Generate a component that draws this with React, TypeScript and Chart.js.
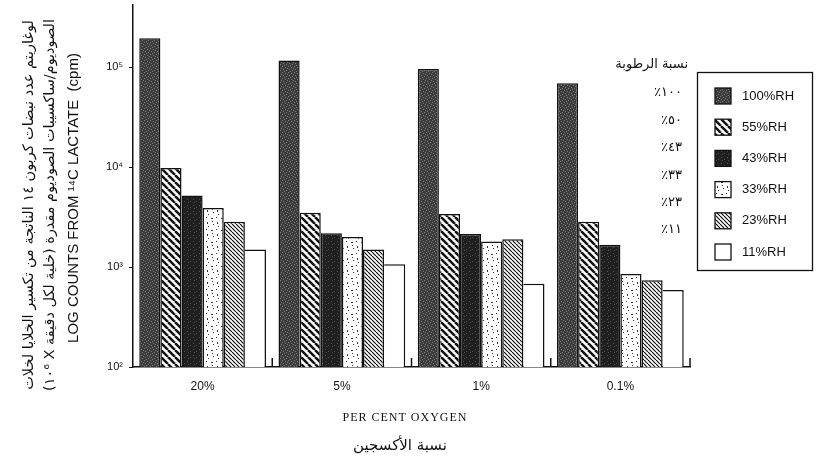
import React, { useEffect, useRef } from 'react';
import { Chart, registerables } from 'chart.js';

Chart.register(...registerables);

// ---- data ----
const categories = ['20%', '5%', '1%', '0.1%'];
const rhLabels = ['100%RH', '55%RH', '43%RH', '33%RH', '23%RH', '11%RH'];
const arabicRhLabels = ['١٠٠٪', '٥٠٪', '٤٣٪', '٣٣٪', '٢٣٪', '١١٪'];
const rh100 = [195000, 117000, 96000, 69000];
const rh55 = [9800, 3500, 3400, 2850];
const rh43 = [5200, 2180, 2150, 1670];
const rh33 = [3900, 2000, 1800, 855];
const rh23 = [2850, 1500, 1900, 740];
const rh11 = [1500, 1070, 680, 590];
const yTicks = [100, 1000, 10000, 100000];
const yTickLabels = ['10²', '10³', '10⁴', '10⁵'];

const xTitle = 'PER CENT OXYGEN';
const xTitleAr = 'نسبة الأكسجين';
const yTitleAr1 = 'لوغاريتم عدد نبضات كربون ١٤ الناتجة من تكسير الخلايا لخلات';
const yTitleAr2 = 'الصوديوم/ساكسيبات الصوديوم مقدرة (خلية لكل دقيقة X ١٠⁶)';
const yTitleEn = 'LOG COUNTS FROM ¹⁴C LACTATE  (cpm)';
const legendHeaderAr = 'نسبة الرطوبة';

function tile(w: number, h: number, draw: (g: CanvasRenderingContext2D) => void): CanvasPattern {
  const c = document.createElement('canvas');
  c.width = w;
  c.height = h;
  const g = c.getContext('2d')!;
  draw(g);
  return g.createPattern(c, 'repeat')!;
}

function stipple(base: string, dot: string, pts: number[][]) {
  return tile(6, 6, (g) => {
    g.fillStyle = base;
    g.fillRect(0, 0, 6, 6);
    g.fillStyle = dot;
    pts.forEach(([x, y]) => g.fillRect(x, y, 1, 1));
  });
}

function stripes(s: number, lw: number) {
  return tile(s, s, (g) => {
    g.fillStyle = '#ffffff';
    g.fillRect(0, 0, s, s);
    g.strokeStyle = '#111111';
    g.lineWidth = lw;
    for (const off of [-s, 0, s]) {
      g.beginPath();
      g.moveTo(off, 0);
      g.lineTo(off + s, s);
      g.stroke();
    }
  });
}

function speckle() {
  return tile(10, 12, (g) => {
    g.fillStyle = '#ffffff';
    g.fillRect(0, 0, 10, 12);
    g.fillStyle = '#333333';
    [[1, 2, 2, 1], [6, 1, 1, 1], [7, 6, 1, 2], [3, 8, 1, 1], [2, 5, 1, 1], [8, 10, 1, 1]].forEach(
      ([x, y, w, h]) => g.fillRect(x, y, w, h)
    );
  });
}

export default function App() {
  const ref = useRef<HTMLCanvasElement | null>(null);

  useEffect(() => {
    const canvas = ref.current!;
    const fills: (CanvasPattern | string)[] = [
      stipple('#3c3c3c', '#7a7a7a', [[0, 0], [3, 1], [1, 3], [4, 4], [2, 5], [5, 2]]),
      stripes(7, 2.5),
      stipple('#1f1f1f', '#4e4e4e', [[1, 1], [4, 3], [2, 4]]),
      speckle(),
      stripes(4, 1.2),
      '#ffffff',
    ];
    const series = [rh100, rh55, rh43, rh33, rh23, rh11];

    const decor = {
      id: 'decor',
      afterDraw(chart: any) {
        const ctx: CanvasRenderingContext2D = chart.ctx;
        const xs = chart.scales.x;
        const area = chart.chartArea;
        ctx.save();
        // boundary ticks
        const step = xs.getPixelForValue(1) - xs.getPixelForValue(0);
        ctx.strokeStyle = '#111';
        ctx.lineWidth = 1.5;
        for (let i = 0; i < categories.length; i++) {
          const bx = xs.getPixelForValue(i) + step / 2;
          ctx.beginPath();
          ctx.moveTo(bx, area.bottom);
          ctx.lineTo(bx, area.bottom - 9);
          ctx.stroke();
        }

        // rotated y titles
        const rot = (text: string, cx: number, cy: number, family: string, size: number, target: number, rtl: boolean) => {
          ctx.save();
          ctx.translate(cx, cy);
          ctx.rotate(-Math.PI / 2);
          ctx.direction = rtl ? 'rtl' : 'ltr';
          ctx.font = `${size}px ${family}`;
          const w = ctx.measureText(text).width;
          const fs = Math.max(10, Math.min(20, (size * target) / w));
          ctx.font = `${fs}px ${family}`;
          ctx.textAlign = 'center';
          ctx.textBaseline = 'middle';
          ctx.fillStyle = '#111';
          ctx.fillText(text, 0, 0);
          ctx.restore();
        };
        rot(yTitleAr1, 29, 205, '"DejaVu Sans"', 14, 370, true);
        rot(yTitleAr2, 50, 205, '"DejaVu Sans"', 14, 372, true);
        rot(yTitleEn, 74, 198, '"Liberation Sans", Arial', 14, 290, false);

        // x titles
        ctx.fillStyle = '#111';
        ctx.textAlign = 'center';
        ctx.textBaseline = 'middle';
        ctx.font = '12px "Liberation Serif", serif';
        (ctx as any).letterSpacing = '1px';
        ctx.fillText(xTitle, 405, 418);
        (ctx as any).letterSpacing = '0px';
        ctx.direction = 'rtl';
        ctx.font = '15px "DejaVu Sans"';
        ctx.fillText(xTitleAr, 400, 446);

        // arabic humidity list
        ctx.textAlign = 'right';
        ctx.font = '13px "DejaVu Sans"';
        ctx.fillText(legendHeaderAr, 688, 65);
        arabicRhLabels.forEach((t, i) => {
          ctx.fillText(t, 682, 93 + 27.4 * i);
        });
        ctx.direction = 'ltr';

        // legend box
        ctx.strokeStyle = '#111';
        ctx.lineWidth = 1.3;
        ctx.strokeRect(697.5, 72.5, 115, 198);
        ctx.font = '13px "Liberation Sans", Arial';
        ctx.textAlign = 'left';
        rhLabels.forEach((lab, i) => {
          const cy = 96 + 31.2 * i;
          ctx.fillStyle = fills[i] as any;
          ctx.fillRect(715, cy - 8, 16, 16);
          ctx.lineWidth = 1.3;
          ctx.strokeRect(715, cy - 8, 16, 16);
          ctx.fillStyle = '#111';
          ctx.fillText(lab, 742, cy);
        });
        ctx.restore();
      },
    };

    const chart = new Chart(canvas, {
      type: 'bar',
      data: {
        labels: categories,
        datasets: series.map((d, i) => ({
          label: rhLabels[i],
          data: d,
          backgroundColor: fills[i] as any,
          borderColor: '#111',
          borderWidth: i === 5 ? { top: 1.5, right: 1.5, left: 0, bottom: 0 } : 1.5,
          barPercentage: 1.0,
          categoryPercentage: 0.91,
        })),
      },
      options: {
        animation: false,
        responsive: false,
        devicePixelRatio: 1,
        layout: { padding: { left: 0, right: 126, top: 5, bottom: 0 } },
        plugins: {
          legend: { display: false },
          tooltip: { enabled: false },
          title: { display: false },
        },
        scales: {
          x: {
            type: 'category',
            grid: { display: false, drawOnChartArea: false, drawTicks: false },
            border: { display: true, color: '#111', width: 1.5 },
            ticks: {
              color: '#111',
              font: { family: '"Liberation Sans", Arial', size: 12 },
              padding: 12,
            },
            afterFit: (s: any) => {
              s.height = 100;
              s.paddingLeft = 0;
              s.paddingRight = 0;
            },
          },
          y: {
            type: 'logarithmic',
            min: 100,
            max: 420000,
            afterBuildTicks: (s: any) => {
              s.ticks = yTicks.map((v) => ({ value: v }));
            },
            afterFit: (s: any) => {
              s.width = 133;
              s.paddingTop = 0;
              s.paddingBottom = 0;
            },
            grid: { drawOnChartArea: false, drawTicks: true, tickLength: 4, color: '#111' },
            border: { display: true, color: '#111', width: 1.5 },
            ticks: {
              color: '#111',
              font: { family: '"Liberation Sans", Arial', size: 11 },
              padding: 6,
              callback: (v: any) => {
                const k = yTicks.indexOf(Number(v));
                return k >= 0 ? yTickLabels[k] : '';
              },
            },
          },
        },
      },
      plugins: [decor],
    });
    return () => chart.destroy();
  }, []);

  return (
    <div style={{ position: 'absolute', left: 0, top: 0, width: 816, height: 467, background: '#fff' }}>
      <canvas ref={ref} width={816} height={467} style={{ display: 'block', width: 816, height: 467 }} />
    </div>
  );
}
